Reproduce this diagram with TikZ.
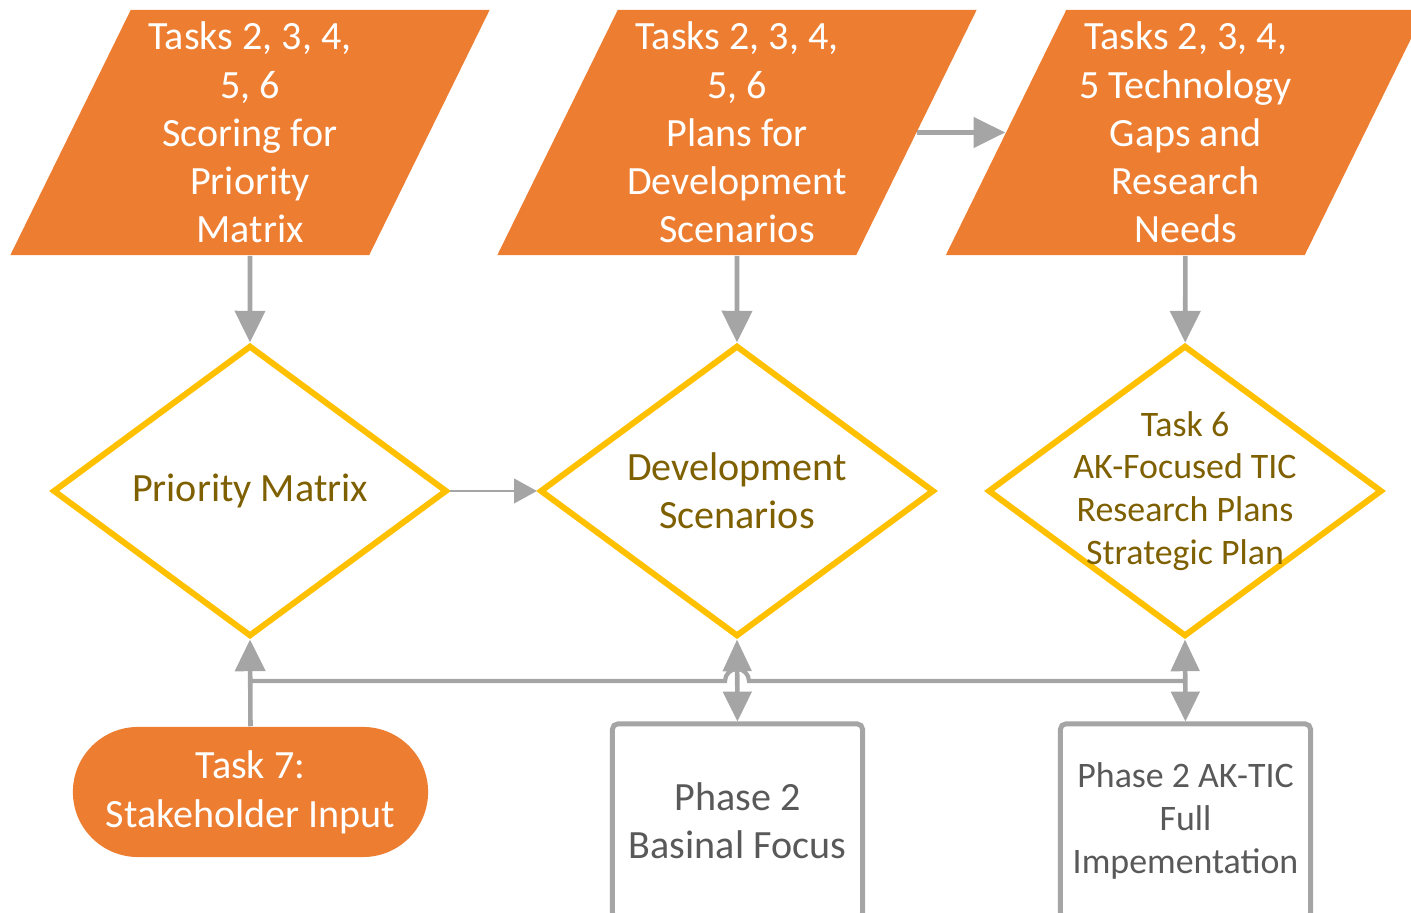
\documentclass[tikz,border=0pt]{standalone}
\usepackage{fontspec}
\setmainfont{Carlito}
\usetikzlibrary{arrows.meta,shapes.geometric,calc}
\definecolor{accorange}{HTML}{ED7D31}
\definecolor{accgold}{HTML}{FFC000}
\definecolor{lnegrey}{HTML}{A5A5A5}
\definecolor{txtolive}{HTML}{7F6000}
\definecolor{txtgrey}{HTML}{595959}

\begin{document}
\begin{tikzpicture}[x=0.01cm, y=-0.01cm,
      io/.style={trapezium, trapezium left angle=61.4, trapezium right angle=118.6, trapezium stretches body,
        minimum width=4.79cm, minimum height=2.45cm, inner sep=0pt, fill=accorange, text=white, align=center,
        font=\fontsize{11.4}{13.7}\selectfont},
      dec/.style={diamond, aspect=1.35, minimum width=3.94cm, minimum height=2.91cm, inner sep=0pt,
        draw=accgold, line width=1.7pt, fill=white, text=txtolive, align=center, font=\fontsize{11.4}{13.7}\selectfont},
      term/.style={rectangle, rounded corners=0.65cm, minimum width=3.55cm, minimum height=1.3cm,
        fill=accorange, text=white, align=center, font=\fontsize{11.4}{13.9}\selectfont},
      proc/.style={rectangle, rounded corners=1.5pt, minimum width=2.5cm, minimum height=1.94cm,
        draw=lnegrey, line width=1.4pt, text=txtgrey, align=center, font=\fontsize{11.4}{13.7}\selectfont},
      arr/.style={draw=lnegrey, line width=1.3pt, -{Triangle[length=9pt,width=8.5pt]}},
      dblarr/.style={draw=lnegrey, line width=1.3pt, {Triangle[length=9pt,width=8pt]}-{Triangle[length=8.5pt,width=8pt]}},
      thinarr/.style={draw=lnegrey, line width=0.6pt, -{Triangle[length=6.5pt,width=7pt]}}]
    \useasboundingbox (0,0) rectangle (1411,913);

    \node[io] (s1) at (250,132.5) {Tasks 2, 3, 4,\\5, 6\\Scoring for\\Priority\\Matrix};
    \node[io] (s2) at (737,132.5) {Tasks 2, 3, 4,\\5, 6\\Plans for\\Development\\Scenarios};
    \node[io] (s3) at (1185.5,132.5) {Tasks 2, 3, 4,\\5 Technology\\Gaps and\\Research\\Needs};

    \node[dec] (d1) at (250,491) {Priority Matrix};
    \node[dec] (d2) at (737,491) {Development\\Scenarios};
    \node[dec, inner xsep=-0.3cm, inner ysep=-0.35cm, font=\fontsize{10.2}{12.2}\selectfont] (d3) at (1185,491)
      {Task 6\\AK-Focused TIC\\Research Plans\\Strategic Plan};

    \node[term] (t7) at (250.5,792) {Task 7:\\Stakeholder Input};
    \node[proc] (b2) at (737.5,821) {Phase 2\\Basinal Focus};
    \node[proc, font=\fontsize{10.2}{12.2}\selectfont] (b3) at (1185.5,821) {Phase 2 AK-TIC\\Full\\Impementation};

    \draw[arr] (s1) -- (d1);
    \draw[arr] (s2) -- (d2);
    \draw[arr] (s3) -- (d3);
    \draw[arr] (s2.east) -- (s3.west);
    \draw[thinarr] (d1.east) -- (d2.west);

    \draw[arr] (t7.north) -- (d1.south);
    \coordinate (bus) at (250,681);
    \draw[draw=lnegrey, line width=1.2pt] (bus) -- ($(d2.south |- bus)+(-12,0)$)
      arc[start angle=180, end angle=360, radius=12] -- (d3.south |- bus);
    \draw[dblarr] (d2.south) -- (b2.north);
    \draw[dblarr] (d3.south) -- (b3.north);
  \end{tikzpicture}
\end{document}
